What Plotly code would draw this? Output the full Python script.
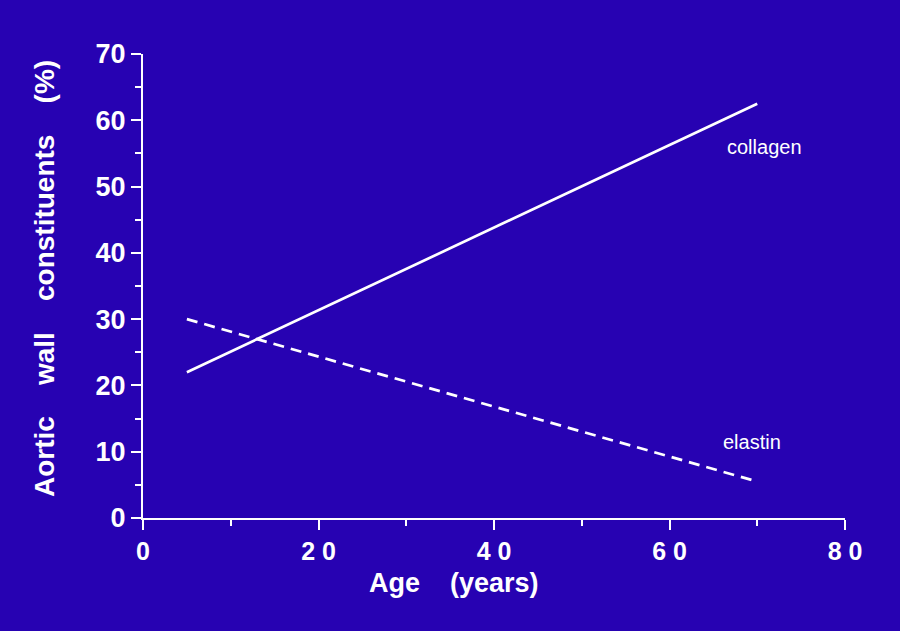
import plotly.graph_objects as go

# Data
ages = [5, 70]
collagen = [22, 62.5]
elastin = [30, 5.5]
x_tick_vals = [0, 20, 40, 60, 80]
x_tick_text = ["0", "2 0", "4 0", "6 0", "8 0"]
y_tick_vals = [0, 10, 20, 30, 40, 50, 60, 70]

BG = "#2702b2"
FG = "white"
FONT = "Liberation Sans, Arial, sans-serif"

fig = go.Figure()
fig.add_trace(go.Scatter(x=ages, y=collagen, mode="lines",
                         line=dict(color=FG, width=2.7), name="collagen"))
fig.add_trace(go.Scatter(x=ages, y=elastin, mode="lines",
                         line=dict(color=FG, width=2.7, dash="11px,7px"), name="elastin"))

fig.add_annotation(x=70.8, y=56, text="collagen", showarrow=False,
                   font=dict(family=FONT, size=20, color=FG))
fig.add_annotation(x=69.4, y=11.5, text="elastin", showarrow=False,
                   font=dict(family=FONT, size=20, color=FG))

# axis titles placed as annotations (offset from plot centre in the reference)
fig.add_annotation(xref="paper", yref="paper", x=-0.141, y=0.515,
                   xanchor="center", yanchor="middle",
                   text="<b>Aortic    wall    constituents    (%)</b>",
                   textangle=-90, showarrow=False,
                   font=dict(family=FONT, size=28, color=FG))
fig.add_annotation(xref="paper", yref="paper", x=0.443, y=-0.14,
                   xanchor="center", yanchor="middle",
                   text="<b>Age    (years)</b>", showarrow=False,
                   font=dict(family=FONT, size=27, color=FG))

fig.update_layout(
    width=900, height=631,
    paper_bgcolor=BG, plot_bgcolor=BG,
    showlegend=False,
    margin=dict(l=143, r=55, t=54, b=113),
    font=dict(family=FONT, color=FG),
    xaxis=dict(
        range=[0, 80], showgrid=False, zeroline=False,
        showline=True, linecolor=FG, linewidth=2,
        tickmode="array", tickvals=x_tick_vals, ticktext=x_tick_text,
        ticks="outside", ticklen=10, tickwidth=2, tickcolor=FG,
        tickfont=dict(family=FONT, size=25, color=FG, weight="bold"),
        minor=dict(dtick=10, ticks="outside", ticklen=6, tickwidth=2, tickcolor=FG),
    ),
    yaxis=dict(
        range=[0, 70], showgrid=False, zeroline=False,
        showline=True, linecolor=FG, linewidth=2,
        tickmode="array", tickvals=y_tick_vals,
        ticks="outside", ticklen=10, tickwidth=2, tickcolor=FG,
        tickfont=dict(family=FONT, size=27, color=FG, weight="bold"),
        minor=dict(dtick=5, ticks="outside", ticklen=6, tickwidth=2, tickcolor=FG),
    ),
)

fig.write_html("out.html")
